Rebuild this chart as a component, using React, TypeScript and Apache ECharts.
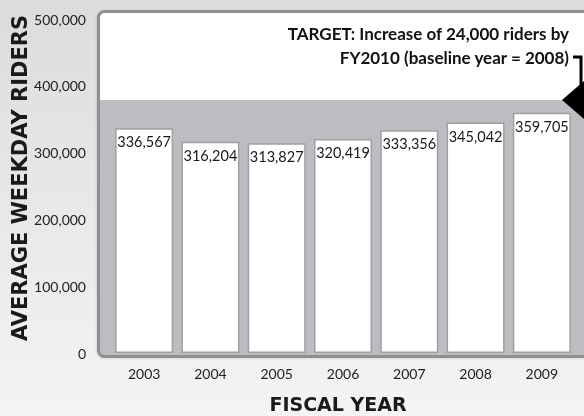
import React, { useEffect, useRef } from "react";
import * as echarts from "echarts";

const fiscalYears = ["2003", "2004", "2005", "2006", "2007", "2008", "2009"];
const weekdayRiders = [336567, 316204, 313827, 320419, 333356, 345042, 359705];
const yTicks = { min: 0, max: 500000, interval: 100000 };
const targetLines = ["TARGET: Increase of 24,000 riders by", "FY2010 (baseline year = 2008)"];

const fmt = (v: number) => v.toLocaleString("en-US");

export default function App() {
  const ref = useRef<HTMLDivElement>(null);
  useEffect(() => {
    if (!ref.current) return;
    const chart = echarts.init(ref.current, null, { renderer: "svg" });
    chart.setOption({
      animation: false,
      graphic: [
        {
          type: "rect",
          z: -10,
          shape: { x: 0, y: 0, width: 584, height: 416 },
          style: {
            fill: new echarts.graphic.LinearGradient(0, 0, 0, 1, [
              { offset: 0, color: "#dcdcdc" },
              { offset: 1, color: "#f4f4f4" },
            ]),
          },
        },
        {
          type: "rect",
          z: -9,
          shape: { x: 98.5, y: 11.5, width: 600, height: 345, r: 6 },
          style: { fill: "#ffffff", shadowBlur: 3, shadowColor: "rgba(0,0,0,0.25)", shadowOffsetX: -1, shadowOffsetY: 1 },
        },
        {
          type: "rect",
          z: -8,
          shape: { x: 100, y: 100, width: 600, height: 256 },
          style: { fill: "#bcbdc0" },
        },
        {
          type: "rect",
          z: -7,
          shape: { x: 98.5, y: 11.5, width: 600, height: 345, r: 6 },
          style: { fill: "none", stroke: "#8e8f91", lineWidth: 3 },
        },
        {
          type: "text",
          z: 10,
          x: 20,
          y: 178,
          rotation: Math.PI / 2,
          style: {
            text: "AVERAGE WEEKDAY RIDERS",
            font: "bold 21px 'DejaVu Sans'",
            fill: "#1a1a1a",
            align: "center",
            verticalAlign: "middle",
          },
        },
        {
          type: "text",
          z: 10,
          x: 338,
          y: 404,
          style: {
            text: "FISCAL YEAR",
            font: "bold 19px 'DejaVu Sans'",
            fill: "#1a1a1a",
            align: "center",
            verticalAlign: "middle",
          },
        },
        {
          type: "text",
          z: 10,
          x: 569,
          y: 45,
          style: {
            text: targetLines.join("\n"),
            font: "bold 17px Lato",
            lineHeight: 24,
            fill: "#111111",
            align: "right",
            verticalAlign: "middle",
          },
        },
        {
          type: "polyline",
          z: 10,
          shape: { points: [[573, 57], [581, 57], [581, 92]] },
          style: { stroke: "#000000", lineWidth: 3, fill: "none" },
        },
        {
          type: "polygon",
          z: 10,
          shape: { points: [[562, 100], [584, 81], [584, 119]] },
          style: { fill: "#000000" },
        },
      ],
      grid: { left: 111, top: 19, width: 464, height: 334 },
      xAxis: {
        type: "category",
        data: fiscalYears,
        axisLine: { show: false },
        axisTick: { show: false },
        axisLabel: { margin: 13, fontSize: 14, fontFamily: "Lato", color: "#222222" },
      },
      yAxis: {
        type: "value",
        min: yTicks.min,
        max: yTicks.max,
        interval: yTicks.interval,
        axisLine: { show: false },
        axisTick: { show: false },
        splitLine: { show: false },
        axisLabel: {
          margin: 25,
          fontSize: 14,
          fontFamily: "Lato",
          color: "#222222",
          formatter: (v: number) => fmt(v),
        },
      },
      series: [
        {
          type: "bar",
          data: weekdayRiders,
          barWidth: 58,
          itemStyle: { color: "#ffffff", borderColor: "#9fa0a3", borderWidth: 1.5 },
          label: {
            show: true,
            position: "insideTop",
            distance: 6,
            fontSize: 14.5,
            fontFamily: "Lato",
            color: "#1a1a1a",
            formatter: (p: any) => fmt(p.value),
          },
        },
      ],
    });
    return () => chart.dispose();
  }, []);
  return <div ref={ref} style={{ position: "fixed", left: 0, top: 0, width: 584, height: 416 }} />;
}
